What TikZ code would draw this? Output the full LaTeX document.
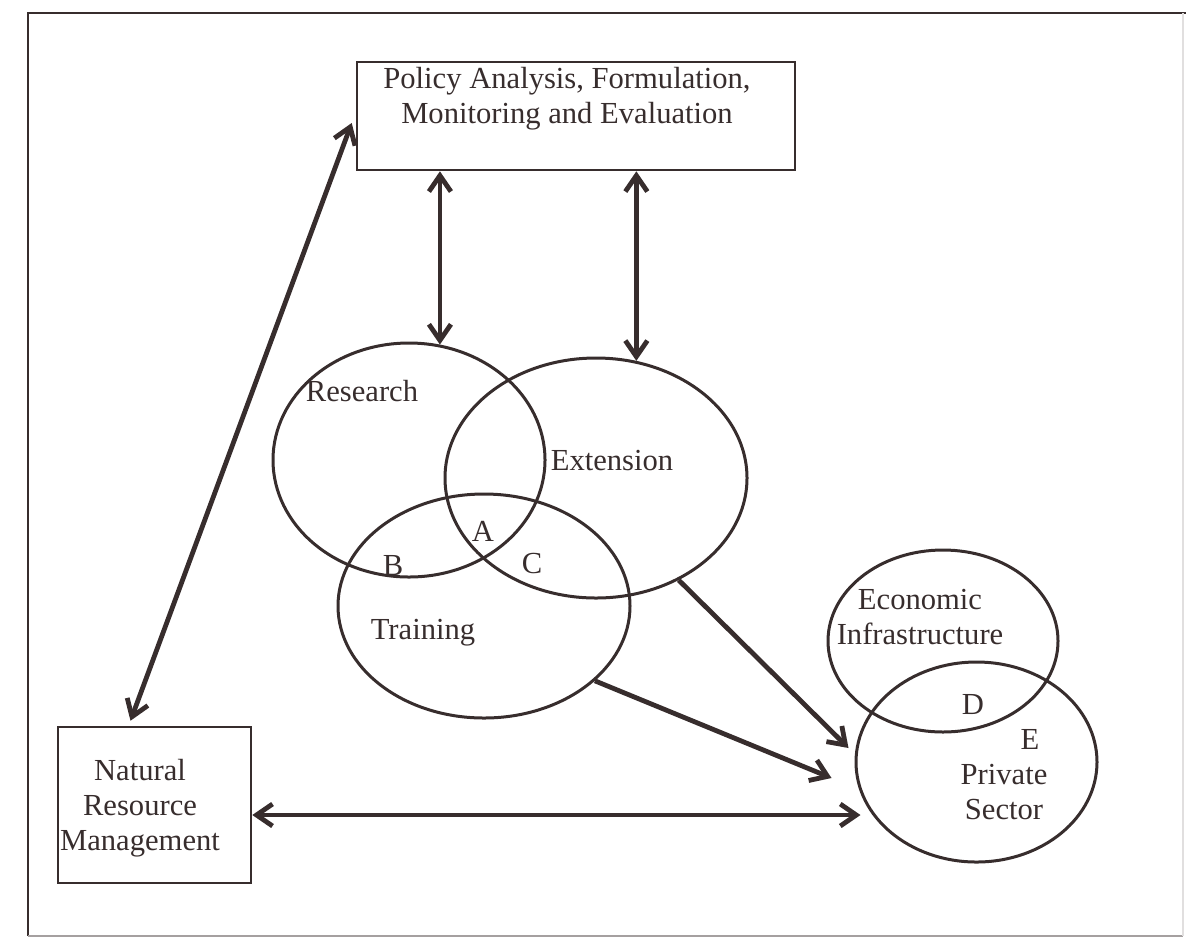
\documentclass[tikz,border=0pt]{standalone}
\usepackage{fontspec}
\setmainfont{Liberation Serif}
\usetikzlibrary{arrows.meta,shapes.geometric,calc}
\definecolor{ink}{RGB}{55,45,45}
\begin{document}
\begin{tikzpicture}[x=0.5pt,y=-0.5pt,
  lbl/.style={inner sep=0pt, text=ink, font=\fontsize{15.3}{17.5}\selectfont, align=center},
  boxnode/.style={draw=ink, line width=1.3pt, inner sep=0pt},
  oval/.style={ellipse, draw=ink, line width=1.5pt, inner sep=0pt},
  barb/.tip={Straight Barb[length=8pt,width=11pt]},
  link/.style={draw=ink, line width=2.4pt, -barb},
  duplex/.style={draw=ink, line width=2.4pt, barb-barb},
]
\useasboundingbox (0,0) rectangle (1186,938);

% outer frame
\draw[ink, line width=1.3pt] (28,936) -- (28,13) -- (1186,13);
\draw[ink!45, line width=0.8pt] (28,936) -- (1183,936);
\draw[ink!15, line width=0.8pt] (1183,13) -- (1183,936);

% boxes
\node[boxnode, minimum width=219pt, minimum height=54pt] (policy) at (576,116) {};
\node[lbl] (policytext) at (567,99) {Policy Analysis, Formulation,\\Monitoring and Evaluation};
\node[boxnode, minimum width=96.5pt, minimum height=78pt] (nrm) at (154.5,805) {};
\node[lbl] (nrmtext) at (140,808) {Natural\\Resource\\Management};

% overlapping ovals
\node[oval, minimum width=136pt, minimum height=117pt] (research) at (409,460) {};
\node[oval, minimum width=151pt, minimum height=120pt] (extension) at (596,478) {};
\node[oval, minimum width=146pt, minimum height=112pt] (training) at (484,606) {};
\node[oval, minimum width=115pt, minimum height=91pt] (econ) at (943,641) {};
\node[oval, minimum width=120.5pt, minimum height=100pt] (private) at (976.5,762) {};

% oval labels
\node[lbl] (researchtext) at (362,391) {Research};
\node[lbl] (extensiontext) at (612,461) {Extension};
\node[lbl] (trainingtext) at (423,633) {Training};
\node[lbl] (labA) at (483,531) {A};
\node[lbl] (labB) at (393,566) {B};
\node[lbl] (labC) at (532,564) {C};
\node[lbl] (econtext) at (920,617) {Economic\\Infrastructure};
\node[lbl] (labD) at (973,704) {D};
\node[lbl] (labE) at (1030,739) {E};
\node[lbl] (privatetext) at (1004,792) {Private\\Sector};

% connectors
\draw[duplex] ($(nrm.north)+(-24,-5)$) -- ($(policy.west)+(-4,7)$);
\draw[duplex] (policy.south -| research.75) -- (research.75);
\draw[duplex] (policy.south -| extension.71) -- (extension.71);
\draw[link] (extension.-51) -- ($(private.west)+(-6,-14)$);
\draw[link] (training.-34) -- ($(private.west)+(-23,16)$);
\draw[duplex] ($(nrm.east)+(0,10)$) -- ($(private.west)+(6,53)$);
\end{tikzpicture}
\end{document}
